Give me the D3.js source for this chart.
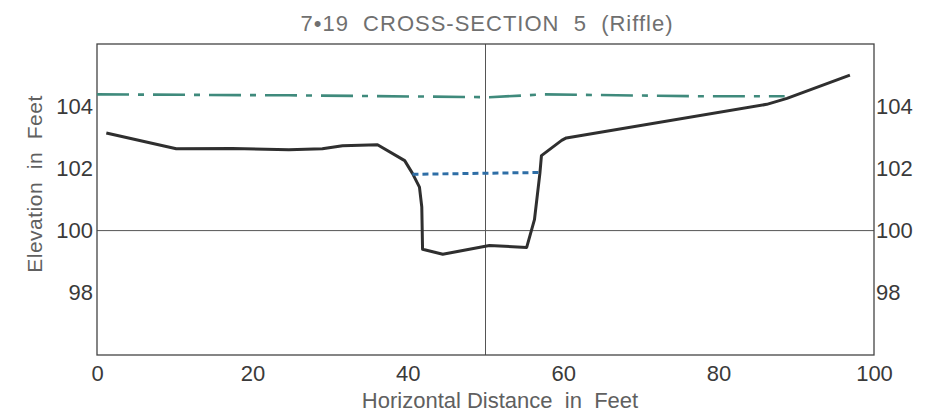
<!DOCTYPE html>
<html>
<head>
<meta charset="utf-8">
<script src="https://cdn.jsdelivr.net/npm/d3@7"></script>
<style>
  body { margin: 0; background: #fff; overflow: hidden; }
  svg { display: block; }
  svg text { font-family: "Liberation Sans", Arial, sans-serif; white-space: pre; }
</style>
</head>
<body>
<div id="chart"></div>
<script>
// ---------- data ----------
const groundX = [1.2, 10.2, 17.4, 24.7, 29, 31.6, 36.1, 39.6, 40.6, 41.5, 41.8, 41.9, 44.5, 50.5, 55.3, 56.3, 57, 57.2, 59.8, 60.4, 86.2, 88.8, 96.9];
const groundY = [103.14, 102.63, 102.64, 102.6, 102.63, 102.73, 102.76, 102.25, 101.84, 101.4, 100.76, 99.4, 99.24, 99.52, 99.46, 100.35, 101.84, 102.41, 102.9, 102.98, 104.06, 104.25, 105.0];

const floodX = [0, 24.7, 50.5, 57.6, 77.6, 88.5];
const floodY = [104.38, 104.35, 104.29, 104.38, 104.32, 104.32];

const waterX = [40.6, 57.2];
const waterY = [101.81, 101.87];

const xTicks = [0, 20, 40, 60, 80, 100];
const yTicks = [98, 100, 102, 104];

// ---------- layout ----------
const width = 926, height = 420;
const margin = { top: 44, right: 52, bottom: 65, left: 97 };
const innerWidth = width - margin.left - margin.right;
const innerHeight = height - margin.top - margin.bottom;

const svg = d3.select("#chart").append("svg")
  .attr("width", width)
  .attr("height", height);

const g = svg.append("g")
  .attr("transform", `translate(${margin.left},${margin.top})`);

const x = d3.scaleLinear().domain([0, 100]).range([0, innerWidth]);
const y = d3.scaleLinear().domain([96, 106]).range([innerHeight, 0]);

// reference lines at 50 ft and 100 ft elevation
g.append("line")
  .attr("x1", x(50)).attr("x2", x(50))
  .attr("y1", 0).attr("y2", innerHeight)
  .attr("stroke", "#555").attr("stroke-width", 1);
g.append("line")
  .attr("x1", 0).attr("x2", innerWidth)
  .attr("y1", y(100)).attr("y2", y(100))
  .attr("stroke", "#555").attr("stroke-width", 1);

// frame
g.append("rect")
  .attr("width", innerWidth).attr("height", innerHeight)
  .attr("fill", "none").attr("stroke", "#444").attr("stroke-width", 1.3);

// axes (labels only)
const bottomAxis = d3.axisBottom(x).tickValues(xTicks).tickSize(0).tickPadding(10);
const leftAxis = d3.axisLeft(y).tickValues(yTicks).tickSize(0).tickPadding(4);
const rightAxis = d3.axisRight(y).tickValues(yTicks).tickSize(0).tickPadding(2);

const styleAxis = sel => {
  sel.select(".domain").remove();
  sel.selectAll("text")
    .attr("font-family", "'Liberation Sans', Arial, sans-serif")
    .attr("font-size", 22)
    .attr("fill", "#3a3a3a");
};

g.append("g").attr("transform", `translate(0,${innerHeight})`).call(bottomAxis).call(styleAxis);
g.append("g").call(leftAxis).call(styleAxis);
g.append("g").attr("transform", `translate(${innerWidth},0)`).call(rightAxis).call(styleAxis);

// flood water surface (dash-dot)
const line = d3.line().x(d => x(d[0])).y(d => y(d[1]));
g.append("path")
  .datum(d3.zip(floodX, floodY))
  .attr("d", line)
  .attr("fill", "none")
  .attr("stroke", "#3f8a7c")
  .attr("stroke-width", 2.6)
  .attr("stroke-dasharray", "32,9,6,9");

// ground profile
g.append("path")
  .datum(d3.zip(groundX, groundY))
  .attr("d", line)
  .attr("fill", "none")
  .attr("stroke", "#2f2f2f")
  .attr("stroke-width", 3)
  .attr("stroke-linejoin", "round");

// low water surface (dotted)
g.append("path")
  .datum(d3.zip(waterX, waterY))
  .attr("d", line)
  .attr("fill", "none")
  .attr("stroke", "#2e6ea6")
  .attr("stroke-width", 3)
  .attr("stroke-dasharray", "6,4");

// title and axis labels
svg.append("text")
  .text("7•19  CROSS-SECTION  5  (Riffle)")
  .attr("x", 487).attr("y", 31)
  .attr("text-anchor", "middle")
  .attr("font-size", 22)
  .attr("letter-spacing", 1)
  .attr("fill", "#707070");

svg.append("text")
  .text("Horizontal Distance  in  Feet")
  .attr("x", 500).attr("y", 408)
  .attr("text-anchor", "middle")
  .attr("font-size", 22)
  .attr("fill", "#606060");

svg.append("text")
  .text("Elevation  in  Feet")
  .attr("transform", "translate(42,184) rotate(-90)")
  .attr("text-anchor", "middle")
  .attr("font-size", 21)
  .attr("letter-spacing", 0.5)
  .attr("fill", "#606060");
</script>
</body>
</html>
